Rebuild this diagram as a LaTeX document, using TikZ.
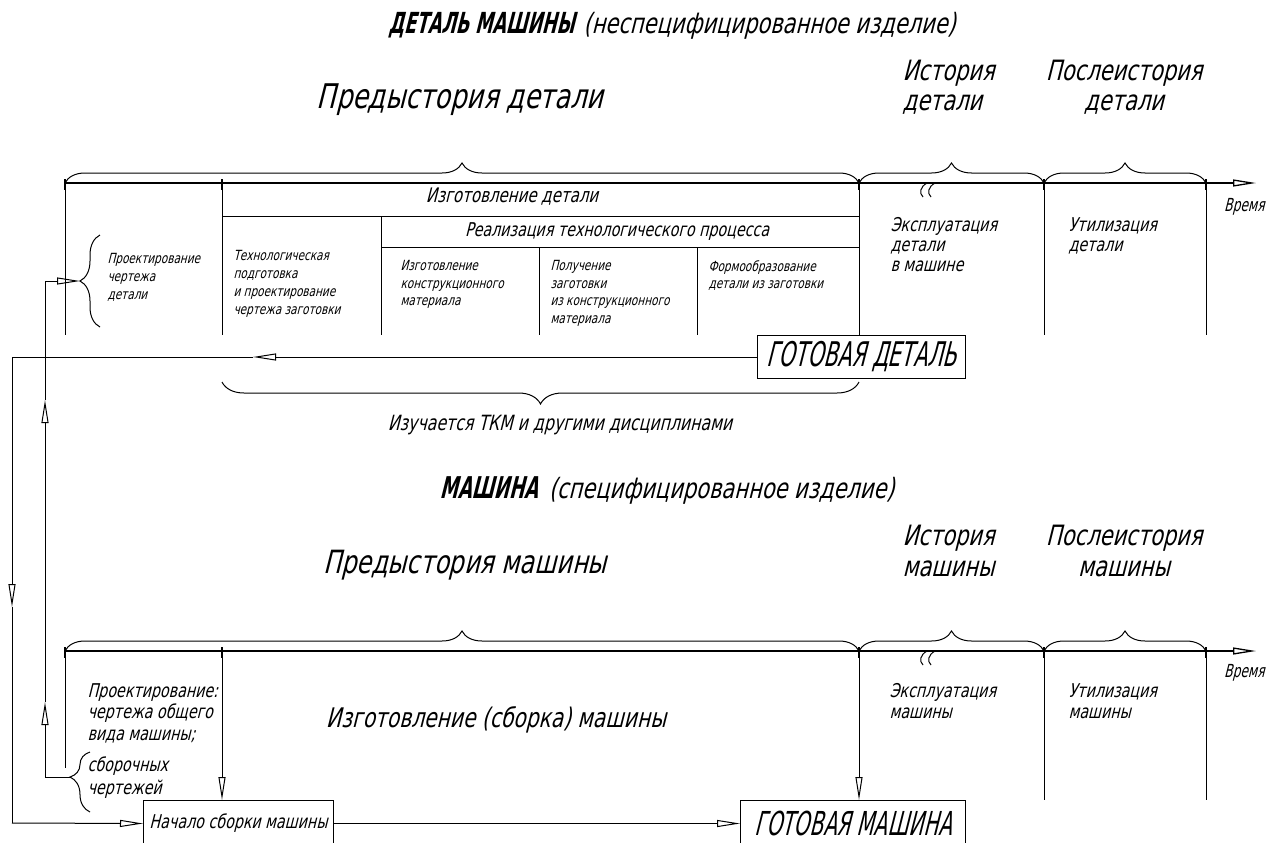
\documentclass[tikz,border=0pt]{standalone}
\usepackage{fontspec}
\setmainfont{DejaVu Sans}[FakeStretch=0.75,FakeSlant=0.25]
\newfontfamily\capsf{DejaVu Sans}[FakeStretch=0.6,FakeSlant=0.25]
\newfontfamily\narrowf{DejaVu Sans}[FakeStretch=0.68,FakeSlant=0.25]
\usetikzlibrary{arrows.meta,decorations.pathreplacing}
\newcommand\fsz[2]{\fontsize{#1}{#2}\selectfont}
\begin{document}
\begin{tikzpicture}[x=1pt,y=-1pt,
  line width=1pt,
  >={Triangle[open,length=23pt,width=7pt]},
  axisln/.style={line width=1.3pt},
  tickln/.style={line width=2.4pt},
  brc/.style={decorate,decoration={brace,amplitude=#1}},
  txt/.style={inner sep=0pt, align=left, anchor=north west},
  ctxt/.style={inner sep=0pt, align=center},
  boxn/.style={draw, inner sep=0pt, anchor=north west},
  timelbl/.style={anchor=east, inner sep=0pt, font=\narrowf\fsz{18}{18}}
]
\path[use as bounding box, clip] (0,0) rectangle (1266,843);

% ---------- titles ----------
\node[ctxt] (t1) at (672,26) {{\capsf\bfseries\fsz{29}{29}ДЕТАЛЬ МАШИНЫ}\hspace{9pt}{\fsz{28}{28}(неспецифицированное изделие)}};
\node[ctxt] (t2) at (667,490) {{\capsf\bfseries\fsz{30}{30}МАШИНА}\hspace{11pt}{\fsz{28}{28}(специфицированное изделие)}};

% ---------- top section ----------
\node[ctxt, font=\fsz{34}{34}] (pd) at (460,100) {Предыстория детали};
\node[txt, font=\fsz{28}{30}] (hd) at (902,60) {История\\детали};
\node[ctxt, font=\fsz{28}{30}, anchor=north] (phd) at (1124,60) {Послеистория\\детали};

\coordinate (a0) at (65,183);
\coordinate (a1) at (222,183);
\coordinate (a2) at (859,183);
\coordinate (a3) at (1044,183);
\coordinate (a4) at (1206,183);
\coordinate (aE) at (1256,183);
\draw[axisln,->] (a0) -- (aE);
\foreach \x in {65,222,859,1044,1206} \draw[tickln] (\x,179) -- (\x,190);
\draw[brc=20pt] (a0) -- (a2);
\draw[brc=20pt] (a2) -- (a3);
\draw[brc=20pt] (a3) -- (a4);
\draw (927,183) .. controls (920,187) and (919,193) .. (923,197);
\draw (935,183) .. controls (928,187) and (927,193) .. (931,197);
\node[timelbl] (vr1) at (1265,207) {Время};

\draw (a0) -- (65,335);
\draw (a1) -- (222,335);
\draw (a3) -- (1044,335);
\draw (a4) -- (1206,335);
\draw (222,216) -- (859,216);
\draw (381,216) -- (381,335);
\draw (381,247) -- (859,247);
\draw (539,247) -- (539,335);
\draw (697,247) -- (697,335);

\node[ctxt, font=\fsz{20}{20}] (izd) at (512,197) {Изготовление детали};
\node[ctxt, font=\fsz{19}{19}] (rtp) at (617,232) {Реализация технологического процесса};
\node[txt, font=\fsz{14}{18}] (prd) at (107,253) {Проектирование\\чертежа\\детали};
\node[txt, font=\fsz{14}{18}] (tpp) at (233,250) {Технологическая\\подготовка\\и проектирование\\чертежа заготовки};
\node[txt, font=\fsz{14}{17.5}] (ikm) at (400,260) {Изготовление\\конструкционного\\материала};
\node[txt, font=\fsz{14}{17.5}] (pz) at (550,260) {Получение\\заготовки\\из конструкционного\\материала};
\node[txt, font=\fsz{14}{17.5}] (fd) at (708,260) {Формообразование\\детали из заготовки};
\node[txt, font=\fsz{19}{20}] (ekd) at (890,217) {Эксплуатация\\детали\\в машине};
\node[txt, font=\fsz{19}{20}] (utd) at (1068,217) {Утилизация\\детали};

\node[boxn, minimum width=208pt, minimum height=43pt, font=\capsf\fsz{34}{34}] (gd) at (757,335) {ГОТОВАЯ ДЕТАЛЬ};
\draw (a2) -- (gd.north -| a2);

\draw[brc=22pt] (859,382) -- (222,382);
\node[ctxt, font=\fsz{21}{21}] (izu) at (560,425) {Изучается ТКМ и другими дисциплинами};

% left brace for design of part
\draw[brc=20pt] (100,327) -- (100,235);
\coordinate (pdtip) at (80,281);

% ---------- bottom section ----------
\node[ctxt, font=\fsz{32}{32}] (pm) at (465,565) {Предыстория машины};
\node[txt, font=\fsz{28}{31}] (hm) at (902,525) {История\\машины};
\node[ctxt, font=\fsz{28}{31}, anchor=north] (phm) at (1124,525) {Послеистория\\машины};

\coordinate (b0) at (65,651);
\coordinate (b1) at (222,651);
\coordinate (b2) at (859,651);
\coordinate (b3) at (1044,651);
\coordinate (b4) at (1206,651);
\coordinate (bE) at (1256,651);
\draw[axisln,->] (b0) -- (bE);
\foreach \x in {65,222,859,1044,1206} \draw[tickln] (\x,647) -- (\x,658);
\draw[brc=20pt] (b0) -- (b2);
\draw[brc=20pt] (b2) -- (b3);
\draw[brc=20pt] (b3) -- (b4);
\draw (927,651) .. controls (920,655) and (919,661) .. (923,665);
\draw (935,651) .. controls (928,655) and (927,661) .. (931,665);
\node[timelbl] (vr2) at (1265,673) {Время};

\node[boxn, minimum width=190pt, minimum height=46pt, font=\fsz{19}{19}] (nsb) at (143,800) {Начало сборки машины};
\node[boxn, minimum width=225pt, minimum height=46pt, font=\capsf\fsz{33}{33}] (gm) at (740,800) {ГОТОВАЯ МАШИНА};

\draw (b0) -- (65,768);
\draw[->] (b1) -- (b1 |- nsb.north);
\draw[->] (b2) -- (b2 |- gm.north);
\draw (b3) -- (1044,800);
\draw (b4) -- (1206,800);
\draw[->] (nsb.east) -- (gm.west);

\node[txt, font=\fsz{19}{21.5}] (prm) at (87,683) {Проектирование:\\чертежа общего\\вида машины;};
\node[txt, font=\fsz{19}{23}] (sbc) at (87,756) {сборочных\\чертежей};
\node[ctxt, font=\fsz{27}{27}] (izm) at (496,720) {Изготовление (сборка) машины};
\node[txt, font=\fsz{19}{21}] (ekm) at (889,683) {Эксплуатация\\машины};
\node[txt, font=\fsz{19}{21}] (utm) at (1068,683) {Утилизация\\машины};

\draw[decorate,decoration={brace,amplitude=20pt,aspect=0.583}] (90,812) -- (90,752);
\coordinate (sbtip) at (70,777);

% ---------- feedback loops ----------
\coordinate (L1) at (45,777);
\coordinate (L2) at (45,702);
\coordinate (L3) at (45,400);
\coordinate (L4) at (45,281);
\draw (sbtip) -- (L1);
\draw[->] (L1) -- (L2);
\draw[->] (L2) -- (L3);
\draw (L3) -- (L4);
\draw[->] (L4) -- (pdtip);

\coordinate (R1) at (253,357);
\coordinate (R2) at (12,357);
\coordinate (R3) at (12,607);
\coordinate (R4) at (12,823);
\draw[->] (gd.west) -- (R1);
\draw (R1) -- (R2);
\draw[->] (R2) -- (R3);
\draw (R3) -- (R4);
\draw[->] (R4) -- (nsb.west);
\end{tikzpicture}
\end{document}
